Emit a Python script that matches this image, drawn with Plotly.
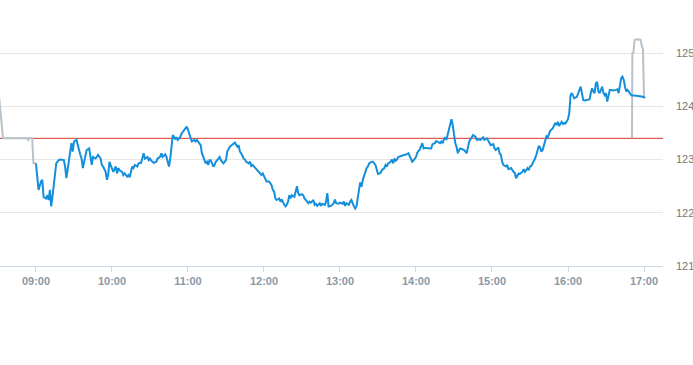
import datetime as dt
import plotly.graph_objects as go

DAY = "2024-01-02"
prev_close = 123.40

# regular-session price, minutes after 09:00
blue_minutes = [0,1,2,4,5,6,8,9,10,11,12,13,14,15,16,18,19,22,23,24,25,26,27,28,29,30,32,33,34,35,36,37,38,39,40,42,43,44,45,47,48,49,51,52,53,55,56,57,58,
60,61,63,64,65,66,68,69,70,72,73,74,75,76,77,78,80,81,83,85,86,88,89,90,91,93,95,96,98,99,100,102,103,104,105,106,107,108,109,110,111,112,113,114,115,116,118,119,
120,121,122,123,125,126,127,128,129,130,131,133,134,135,136,137,138,139,140,141,142,144,145,146,147,148,150,151,153,155,156,157,159,160,161,162,164,165,166,168,169,170,171,173,175,176,178,179,
181,182,184,186,187,188,189,190,192,193,194,195,196,197,198,199,200,201,202,204,205,206,207,208,210,211,212,214,215,216,217,219,220,221,222,224,225,226,228,229,230,231,233,235,236,237,239,
240,242,243,244,245,247,248,249,251,252,253,254,255,256,257,258,259,260,261,262,263,265,266,268,269,270,272,273,275,276,277,278,280,281,282,283,284,285,286,288,289,291,292,294,296,297,298,
300,301,303,305,306,307,309,310,312,313,315,316,317,319,320,321,322,323,324,326,327,328,329,330,331,332,333,334,335,337,338,340,341,342,344,345,347,348,350,351,353,354,356,358,359,
361,362,363,365,366,367,368,369,371,372,373,375,377,378,379,380,381,382,384,385,386,387,388,389,390,391,392,393,394,395,396,397,398,399,400,401,402,403,404,405,406,408,409,410,411,412,413,414,415,416,417,418,419,
420,421,422,423,424,425,427,428,429,430,431,432,433,435,437,438,439,440,441,442,443,444,445,447,448,449,450,451,452,453,454,456,458,459,460,461,462,463,464,465,466,467,468,469,470,474,477,479,481]
blue_values = [122.93,122.65,122.43,122.59,122.62,122.30,122.27,122.33,122.24,122.43,122.12,122.30,122.55,122.74,122.93,122.99,123.00,122.99,122.87,122.65,122.84,122.99,123.12,123.31,123.15,123.34,123.37,123.24,123.18,123.09,123.02,122.84,122.96,123.12,123.18,123.21,122.99,122.90,123.05,123.02,123.05,123.09,123.02,122.90,122.87,122.77,122.62,122.71,122.96,
122.80,122.77,122.87,122.74,122.84,122.80,122.77,122.71,122.74,122.68,122.71,122.67,122.77,122.87,122.84,122.90,122.87,122.93,122.94,123.12,123.02,123.05,122.99,123.02,122.98,122.94,122.96,123.02,123.05,123.12,123.05,123.10,123.05,122.96,122.87,123.02,123.31,123.46,123.43,123.38,123.42,123.37,123.40,123.43,123.49,123.52,123.59,123.62,
123.56,123.49,123.40,123.34,123.37,123.34,123.37,123.34,123.31,123.27,123.12,122.99,122.93,122.96,122.90,122.99,122.99,122.93,122.87,122.90,122.96,123.02,123.05,122.99,122.96,122.93,122.99,123.15,123.24,123.29,123.31,123.32,123.24,123.27,123.15,123.12,123.02,123.00,122.96,122.93,122.96,122.88,122.90,122.84,122.80,122.77,122.71,122.74,
122.65,122.59,122.59,122.52,122.43,122.40,122.27,122.24,122.27,122.21,122.25,122.18,122.15,122.12,122.15,122.21,122.33,122.27,122.33,122.30,122.40,122.50,122.37,122.33,122.35,122.33,122.27,122.21,122.18,122.21,122.19,122.24,122.15,122.17,122.13,122.18,122.13,122.17,122.15,122.21,122.37,122.12,122.13,122.18,122.25,122.18,122.17,
122.19,122.17,122.21,122.13,122.18,122.15,122.21,122.24,122.12,122.08,122.12,122.24,122.43,122.57,122.49,122.62,122.71,122.80,122.84,122.87,122.93,122.96,122.96,122.90,122.80,122.73,122.75,122.80,122.84,122.90,122.87,122.93,122.96,123.00,122.93,123.02,122.98,123.00,123.05,123.07,123.07,123.09,123.09,123.12,123.02,122.96,122.98,
123.05,123.13,123.19,123.31,123.21,123.22,123.22,123.21,123.21,123.29,123.31,123.35,123.34,123.31,123.34,123.31,123.38,123.42,123.37,123.59,123.68,123.76,123.65,123.43,123.31,123.24,123.12,123.18,123.21,123.19,123.18,123.12,123.24,123.34,123.42,123.46,123.43,123.37,123.38,123.37,123.42,123.37,123.40,123.31,123.27,
123.29,123.21,123.18,123.23,123.12,123.09,122.96,122.90,122.87,122.90,122.82,122.84,122.77,122.75,122.65,122.71,122.74,122.73,122.77,122.82,122.77,122.80,122.84,122.80,122.87,122.88,122.92,122.96,123.02,123.09,123.19,123.26,123.23,123.15,123.18,123.27,123.37,123.44,123.42,123.48,123.54,123.59,123.65,123.69,123.65,123.71,123.63,123.68,123.71,123.67,123.69,123.68,123.73,
123.76,123.87,124.21,124.25,124.21,124.15,124.18,124.25,124.31,124.37,124.25,124.12,124.11,124.12,124.13,124.25,124.34,124.28,124.25,124.43,124.46,124.28,124.25,124.37,124.25,124.21,124.25,124.09,124.18,124.31,124.31,124.30,124.31,124.32,124.25,124.37,124.53,124.56,124.50,124.37,124.28,124.31,124.28,124.25,124.21,124.20,124.19,124.18,124.16]

# extended-hours price
pre_times = ["08:30:00", "08:34:00", "08:53:00", "08:54:00", "08:55:00", "08:56:00", "08:57:00", "08:58:00", "09:00:00"]
pre_values = [124.40, 123.40, 123.40, 123.37, 123.41, 123.40, 123.40, 122.93, 122.93]
post_times = ["16:50:30", "16:50:50", "16:51:40", "16:52:35", "16:55:10", "16:57:20", "16:58:25", "16:59:10", "17:00:00"]
post_values = [123.40, 125.00, 125.01, 125.25, 125.26, 125.25, 125.12, 125.09, 124.18]

x_tick_labels = ["09:00", "10:00", "11:00", "12:00", "13:00", "14:00", "15:00", "16:00", "17:00"]
y_ticks = [121, 122, 123, 124, 125]

open_dt = dt.datetime.fromisoformat(DAY + " 09:00:00")
blue_x = [open_dt + dt.timedelta(minutes=m) for m in blue_minutes]
pre_x = [DAY + " " + t for t in pre_times]
post_x = [DAY + " " + t for t in post_times]
tick_x = [DAY + " " + t + ":00" for t in x_tick_labels]

fig = go.Figure()
gray = "#b7c2ca"
fig.add_trace(go.Scatter(x=pre_x, y=pre_values, mode="lines",
                         line=dict(color=gray, width=2), hoverinfo="skip"))
fig.add_trace(go.Scatter(x=post_x, y=post_values, mode="lines",
                         line=dict(color=gray, width=2), hoverinfo="skip"))
fig.add_trace(go.Scatter(x=blue_x, y=blue_values, mode="lines",
                         line=dict(color="#138fdd", width=2), hoverinfo="skip"))

fig.add_shape(type="line", xref="paper", x0=0, x1=1, yref="y",
              y0=prev_close, y1=prev_close,
              line=dict(color="#d9342b", width=1), layer="below")

fig.update_layout(
    width=693, height=365,
    margin=dict(l=0, r=30, t=0, b=99),
    paper_bgcolor="white", plot_bgcolor="white",
    showlegend=False,
    font=dict(family="Liberation Sans, Arial, sans-serif"),
)
fig.update_xaxes(
    type="date",
    range=[DAY + " 08:31:36", DAY + " 17:15:00"],
    tickvals=tick_x, ticktext=x_tick_labels,
    showgrid=False, zeroline=False,
    showline=True, linecolor="#ccd6eb", linewidth=1,
    ticks="outside", ticklen=5, tickcolor="#ccd6eb",
    tickfont=dict(size=11, color="#8a98a8", weight="bold"),
)
fig.update_yaxes(
    side="right",
    range=[121, 126],
    tickvals=y_ticks, ticktext=[str(v) for v in y_ticks],
    showgrid=True, gridcolor="#e6e6e6", gridwidth=1,
    zeroline=False, showline=False,
    ticks="", ticklabelstandoff=12,
    tickfont=dict(size=11, color="#777777"),
)

fig.write_html("out.html")
